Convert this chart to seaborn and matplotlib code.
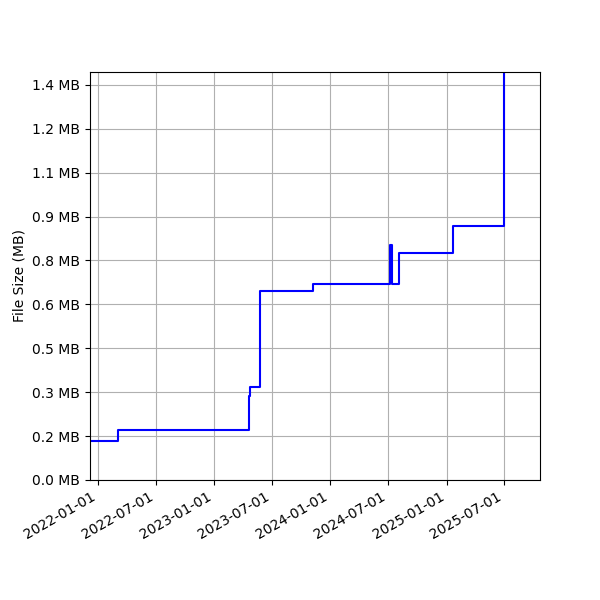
import matplotlib
matplotlib.use("Agg")
import matplotlib.pyplot as plt
import matplotlib.dates as mdates
import matplotlib.ticker as mticker
import seaborn as sns
import pandas as pd

dates = ["2021-12-07", "2022-03-05", "2023-02-20", "2023-04-21", "2023-04-23", "2023-05-25",
         "2023-11-08", "2024-07-07", "2024-07-14", "2024-08-05", "2025-01-21", "2025-07-01", "2025-07-02"]
sizes_mb = [0.139, 0.178, 0.179, 0.299, 0.331, 0.673,
            0.698, 0.836, 0.698, 0.808, 0.904, 1.452, 1.452]

df = pd.DataFrame({"date": pd.to_datetime(dates), "size": sizes_mb})

fig, ax = plt.subplots(figsize=(6, 6), dpi=100)
fig.subplots_adjust(left=0.15, right=0.9, bottom=0.2, top=0.88)
sns.lineplot(data=df, x="date", y="size", ax=ax, color="blue", drawstyle="steps-post")
ax.set_xlim(pd.Timestamp("2021-12-07"), pd.Timestamp("2025-10-22"))
ax.set_ylim(0, 1.452)
ax.yaxis.set_major_locator(mticker.MultipleLocator(0.15625))
ax.yaxis.set_major_formatter(mticker.FuncFormatter(lambda v, p: f"{v:.1f} MB"))
ax.xaxis.set_major_locator(mdates.MonthLocator(bymonth=[1, 7]))
ax.xaxis.set_major_formatter(mdates.DateFormatter("%Y-%m-%d"))
ax.set_xlabel("")
ax.set_ylabel("File Size (MB)")
ax.grid(True)
plt.setp(ax.get_xticklabels(), rotation=30, ha="right")
fig.savefig("out.png")
